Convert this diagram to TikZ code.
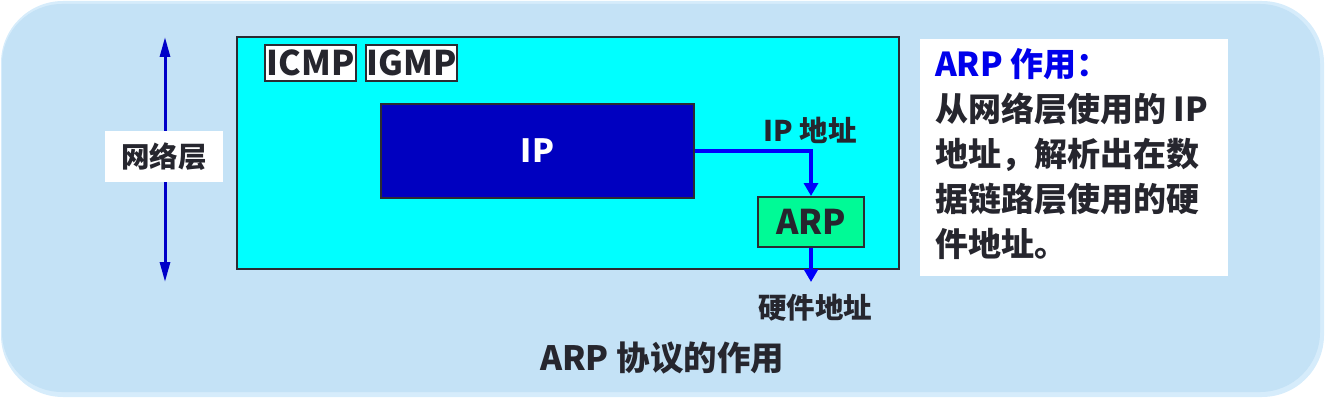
\documentclass[tikz,border=0pt]{standalone}
\usepackage{fontspec}
\setmainfont{Noto Sans CJK SC}
\usetikzlibrary{arrows.meta}
\definecolor{bgblue}{RGB}{196,226,246}
\definecolor{rimblue}{RGB}{214,236,251}
\definecolor{txt}{RGB}{38,38,46}
\definecolor{edge}{RGB}{43,43,51}
\definecolor{netcyan}{RGB}{0,255,255}
\definecolor{ipblue}{RGB}{0,0,192}
\definecolor{arpgreen}{RGB}{0,250,150}
\definecolor{arrblue}{RGB}{0,0,250}
\definecolor{layerblue}{RGB}{0,0,200}
\definecolor{headblue}{RGB}{0,0,235}
\tikzset{
  box/.style={draw=edge, line width=2pt, inner sep=0pt},
  tag/.style={box, fill=white, minimum width=91pt, minimum height=36pt, font=\fontsize{34}{34}\selectfont\bfseries, text=txt},
  lbl/.style={inner sep=0pt, font=\fontsize{28.5}{28.5}\selectfont\bfseries, text=txt},
  flow/.style={draw=arrblue, line width=4pt, -{Triangle[length=13pt,width=14pt]}},
  layer/.style={draw=layerblue, line width=3pt, {Triangle[length=20pt,width=10pt]}-{Triangle[length=20pt,width=10pt]}}
}
\begin{document}
\begin{tikzpicture}[x=1pt,y=-1pt]
\useasboundingbox (0,0) rectangle (1325,401);
\fill[rimblue, rounded corners=62pt] (1,1) rectangle (1324,397);
\fill[bgblue, rounded corners=60pt] (2,4) rectangle (1320,392);
% network layer box
\node[box, fill=netcyan, minimum width=662pt, minimum height=232pt] (net) at (568,153) {};
\node[tag] (icmp) at (310.5,63) {ICMP};
\node[tag] (igmp) at (411.5,63) {IGMP};
\node[box, fill=ipblue, minimum width=313pt, minimum height=94pt, text=white, font=\fontsize{32}{32}\selectfont\bfseries] (ip) at (537.5,151) {IP};
\node[box, fill=arpgreen, minimum width=106pt, minimum height=50pt, text=txt, font=\fontsize{34}{34}\selectfont\bfseries] (arp) at (811,222) {ARP};
\coordinate (hw) at (811,282);
\draw[flow] (ip.east) -| (arp.north);
\draw[flow] (arp.south) -- (hw);
\node[lbl] (iplbl) at (810,130) {IP 地址};
\node[lbl] (hwlbl) at (815,308) {硬件地址};
% layer arrow
\coordinate (ltop) at (165,37);
\coordinate (lbot) at (165,282);
\draw[layer] (ltop) -- (lbot);
\node[fill=white, minimum width=118pt, minimum height=51pt, inner sep=0pt, font=\fontsize{28.5}{28.5}\selectfont\bfseries, text=txt] (layerlbl) at (164,156.5) {网络层};
% description
\node[fill=white, minimum width=308pt, minimum height=237pt, inner sep=0pt] (desc) at (1074,157.5) {};
\node[anchor=north west, inner sep=0pt, align=left, text=txt, font=\fontsize{33}{45}\selectfont\bfseries] (desctxt) at (935,48) {\textcolor{headblue}{ARP 作用：}\\从网络层使用的~IP\\地址，解析出在数\\据链路层使用的硬\\件地址。};
% title
\node[inner sep=0pt, font=\fontsize{33.5}{33.5}\selectfont\bfseries, text=txt] (title) at (662,358) {ARP 协议的作用};
\end{tikzpicture}
\end{document}
